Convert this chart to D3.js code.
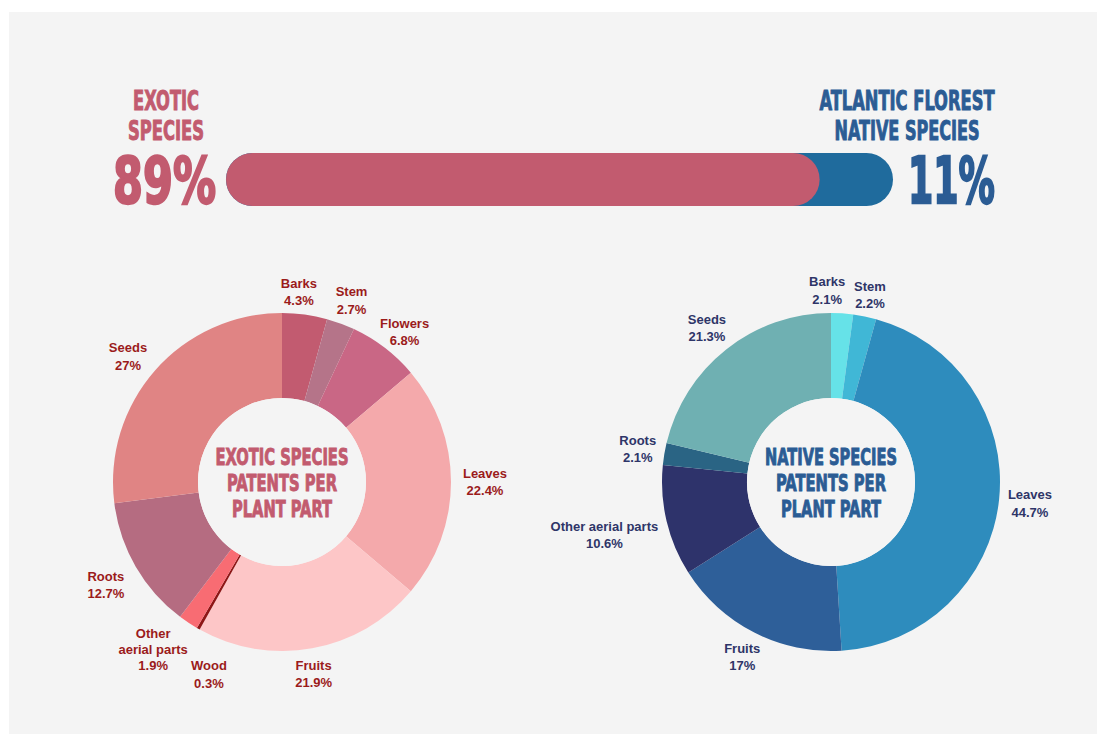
<!DOCTYPE html>
<html>
<head>
<meta charset="utf-8">
<script src="https://cdn.jsdelivr.net/npm/d3@7"></script>
<style>
  body { margin: 0; background: #fff; }
  svg { display: block; }
</style>
</head>
<body>
<svg id="chart" width="1097" height="739"></svg>
<script>
// top bar: share of patents
let shareNames = ["Exotic species", "Atlantic Florest native species"]
let shareValues = [89, 11]

// exotic species patents per plant part (clockwise from 12 o'clock)
let exoticParts = ["Barks", "Stem", "Flowers", "Leaves", "Fruits", "Wood", "Other aerial parts", "Roots", "Seeds"]
let exoticValues = [4.3, 2.7, 6.8, 22.4, 21.9, 0.3, 1.9, 12.7, 27]

// native species patents per plant part
let nativeParts = ["Barks", "Stem", "Leaves", "Fruits", "Other aerial parts", "Roots", "Seeds"]
let nativeValues = [2.1, 2.2, 44.7, 17, 10.6, 2.1, 21.3]

let exoticColors = ["#c25b70", "#b57489", "#c96785", "#f4a9ab", "#fdc6c7", "#8e1616", "#f86c73", "#b56c81", "#e08484"]
let nativeColors = ["#66e2e8", "#40b7d6", "#2e8cbd", "#2e5f99", "#2e336b", "#2a6484", "#6fb0b2"]

let pink = "#c25b6f"
let blue = "#2b5c94"
let condensed = "'Liberation Sans Narrow', 'DejaVu Sans Condensed', sans-serif"
let labelFont = "'Liberation Sans', Arial, sans-serif"

let svg = d3.select("#chart")

// paper card
svg.append("rect").attr("x", 9).attr("y", 12).attr("width", 1088).attr("height", 722).attr("fill", "#f4f4f4")

// ---- top bar ----
let barX = d3.scaleLinear().domain([0, 100]).range([226, 893])
let barY = 153, barH = 53
svg.append("rect")
    .attr("x", barX(0)).attr("y", barY)
    .attr("width", barX(100) - barX(0)).attr("height", barH)
    .attr("rx", barH / 2).attr("fill", "#1f6b9d")
svg.append("rect")
    .attr("x", barX(0)).attr("y", barY)
    .attr("width", barX(shareValues[0]) - barX(0)).attr("height", barH)
    .attr("rx", barH / 2).attr("fill", pink)

let heavyText = (x, y, txt, size, color, width, anchor) => {
    let t = svg.append("text")
        .attr("x", x).attr("y", y)
        .attr("text-anchor", anchor || "middle")
        .attr("font-family", condensed)
        .attr("font-weight", "bold")
        .attr("font-size", size)
        .attr("fill", color)
        .attr("stroke", color).attr("stroke-width", size / 28)
        .text(txt)
    if (width) t.attr("textLength", width).attr("lengthAdjust", "spacingAndGlyphs")
    return t
}

heavyText(166, 110, "EXOTIC", 27, pink, 66)
heavyText(166, 140, "SPECIES", 27, pink, 76)
heavyText(113, 203, shareValues[0] + "%", 64, pink, 103, "start")

heavyText(907, 110, "ATLANTIC FLOREST", 27, blue, 175)
heavyText(907, 140, "NATIVE SPECIES", 27, blue, 145)
heavyText(908, 203, shareValues[1] + "%", 64, blue, 87, "start")

// ---- donuts ----
let outerR = 169, innerR = 84, labelR = 200
let arc = d3.arc().innerRadius(innerR).outerRadius(outerR)
let labelArc = d3.arc().innerRadius(labelR).outerRadius(labelR)
let pie = d3.pie().sort(null).value(d => d.value)

// small hand nudges where the labels were moved off the arc line
let nudge = {
    exotic: { "Barks": [-10, 8], "Stem": [0, 6], "Flowers": [1, 9], "Seeds": [-4, 7], "Leaves": [3, 0], "Roots": [-3, 3],
        "Other aerial parts": [-18, 1], "Wood": [26, 19], "Fruits": [-4, -5] },
    native: { "Barks": [-17, 8], "Stem": [-1, 9], "Seeds": [0, 3], "Roots": [4, 0], "Other aerial parts": [-32, 7],
        "Leaves": [0, 1], "Fruits": [2, -3] }
}

let drawDonut = (key, cx, cy, parts, values, colors, textColor, titleColor, title) => {
    let data = parts.map((p, i) => ({ name: p, value: values[i], color: colors[i] }))
    let g = svg.append("g").attr("transform", `translate(${cx},${cy})`)
    let arcs = pie(data)
    g.selectAll("path.slice").data(arcs).enter().append("path")
        .attr("class", "slice")
        .attr("d", arc)
        .attr("fill", d => d.data.color)

    g.append("circle").attr("r", innerR).attr("fill", "#f4f4f4")

    let lab = g.selectAll("g.lab").data(arcs).enter().append("g")
        .attr("class", "lab")
        .attr("transform", d => {
            let c = labelArc.centroid(d)
            let n = nudge[key][d.data.name] || [0, 0]
            return `translate(${c[0] + n[0]},${c[1] + n[1]})`
        })
    lab.each(function (d) {
        let lines = [d.data.name]
        if (key == "exotic" && d.data.name == "Other aerial parts") lines = ["Other", "aerial parts"]
        lines.push(d.data.value + "%")
        let t = d3.select(this).append("text")
            .attr("text-anchor", "middle")
            .attr("font-family", labelFont)
            .attr("font-weight", "bold")
            .attr("font-size", 13)
            .attr("fill", textColor)
        let lh = lines.length == 3 ? 16 : 17.5
        let y0 = -(lines.length - 1) * lh / 2 + 4.5
        lines.forEach((l, i) => {
            t.append("tspan").attr("x", 0).attr("y", y0 + i * lh).text(l)
        })
    })

    title.forEach((l, i) => {
        g.append("text")
            .attr("x", 0).attr("y", -17 + i * 26)
            .attr("text-anchor", "middle")
            .attr("font-family", condensed)
            .attr("font-weight", "bold")
            .attr("font-size", 23)
            .attr("fill", titleColor)
            .attr("stroke", titleColor)
            .attr("stroke-width", 0.9)
            .attr("textLength", l.w).attr("lengthAdjust", "spacingAndGlyphs")
            .text(l.t)
    })
}

drawDonut("exotic", 282, 482, exoticParts, exoticValues, exoticColors, "#9b1b1b", pink,
    [{ t: "EXOTIC SPECIES", w: 133 }, { t: "PATENTS PER", w: 110 }, { t: "PLANT PART", w: 100 }])
drawDonut("native", 831, 482, nativeParts, nativeValues, nativeColors, "#2e3568", blue,
    [{ t: "NATIVE SPECIES", w: 132 }, { t: "PATENTS PER", w: 110 }, { t: "PLANT PART", w: 100 }])
</script>
</body>
</html>
